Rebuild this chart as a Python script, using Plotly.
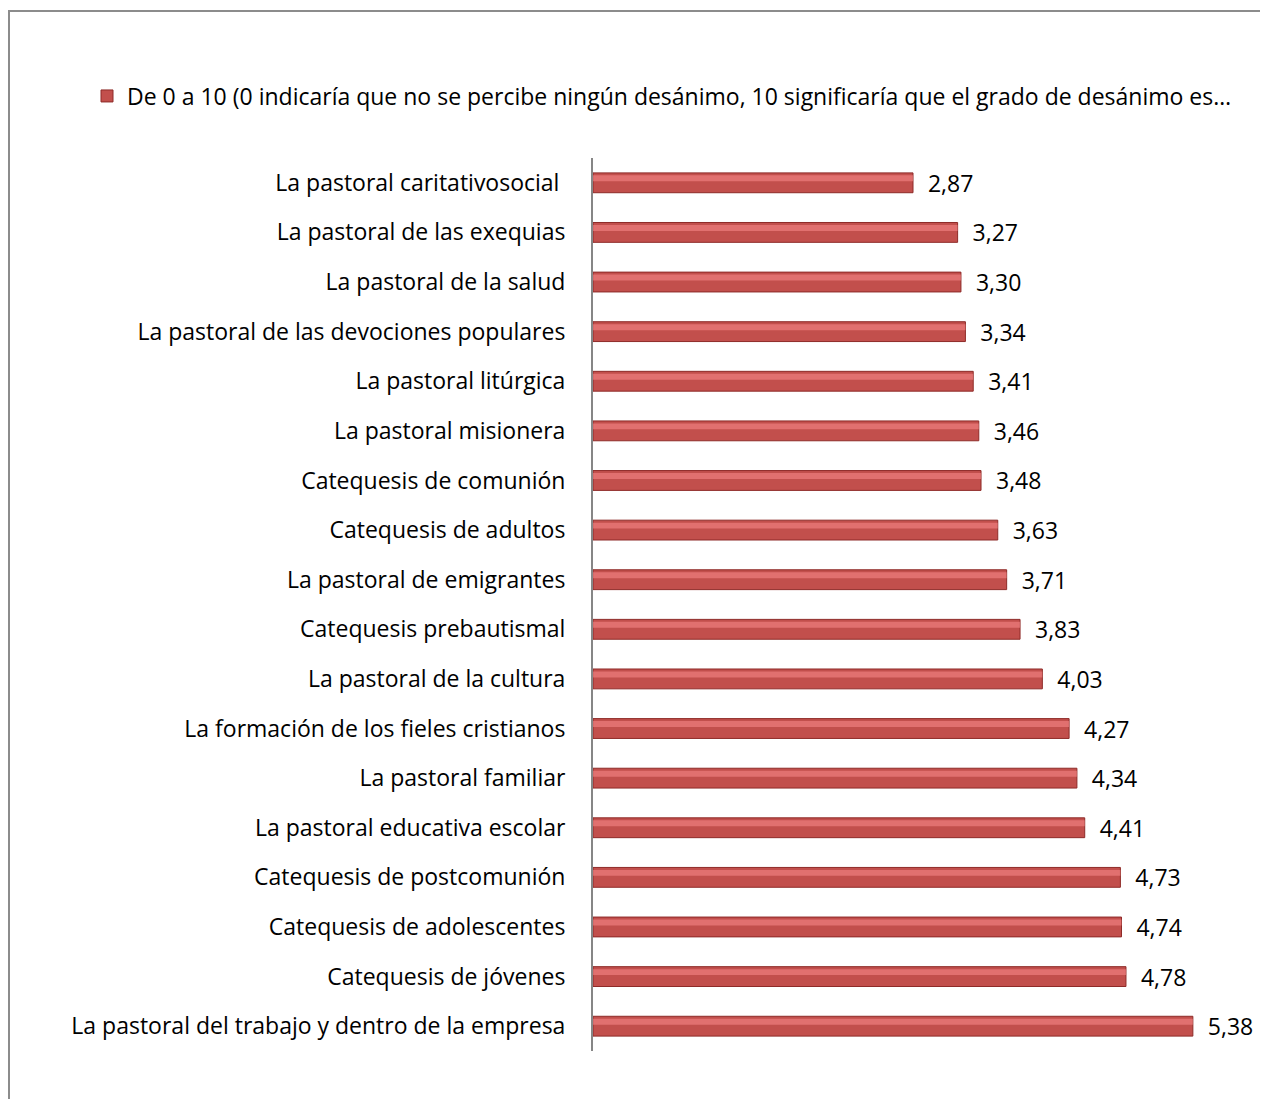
import plotly.graph_objects as go

categories = [
    "La pastoral caritativosocial ",
    "La pastoral de las exequias",
    "La pastoral de la salud",
    "La pastoral de las devociones populares",
    "La pastoral litúrgica",
    "La pastoral misionera",
    "Catequesis de comunión",
    "Catequesis de adultos",
    "La pastoral de emigrantes",
    "Catequesis prebautismal",
    "La pastoral de la cultura",
    "La formación de los fieles cristianos",
    "La pastoral familiar",
    "La pastoral educativa escolar",
    "Catequesis de postcomunión",
    "Catequesis de adolescentes",
    "Catequesis de jóvenes",
    "La pastoral del trabajo y dentro de la empresa",
]
values = [2.87, 3.27, 3.30, 3.34, 3.41, 3.46, 3.48, 3.63, 3.71, 3.83,
          4.03, 4.27, 4.34, 4.41, 4.73, 4.74, 4.78, 5.38]
series_name = ("De 0 a 10 (0 indicaría que no se percibe ningún desánimo, "
               "10 significaría que el grado de desánimo es…")

# page body has an 8px margin, so work in figure coordinates (screen - 8)
OFF = 8
W, H = 1260, 1091
L, R, T = 593 - OFF, 6, 158 - OFF
B = H - (1051 - OFF)
pw, ph = W - L - R, H - T - B

FONT = "'Open Sans', sans-serif"
FS = 23

fig = go.Figure()
fig.add_trace(go.Bar(
    y=categories, x=values, orientation="h", name=series_name,
    marker=dict(color="#C24F4C", line=dict(color="#8E2B28", width=1)),
    width=0.4,
    text=[f"{v:.2f}".replace(".", ",") for v in values],
    texttemplate="  %{text}",
    textposition="outside", cliponaxis=False, constraintext="none",
    textfont=dict(size=FS, color="#000000", family=FONT),
    showlegend=True,
))
# highlight stripe to suggest the bevelled look
fig.add_trace(go.Bar(
    y=categories, x=values, orientation="h",
    marker=dict(color="rgba(245,135,135,0.6)", line=dict(width=0)),
    width=0.12, offset=-0.15, showlegend=False, hoverinfo="skip",
))

def px_x(sx):
    return (sx - OFF - L) / pw

def px_y(sy):
    return (H - B - (sy - OFF)) / ph

fig.add_shape(type="rect", xref="paper", yref="paper",
              x0=px_x(9), x1=px_x(1290), y0=px_y(1120), y1=px_y(11),
              line=dict(color="#8C8C8C", width=2), layer="below")

fig.update_layout(
    width=W, height=H,
    margin=dict(l=L, r=R, t=T, b=B),
    paper_bgcolor="white", plot_bgcolor="white",
    barmode="overlay",
    font=dict(family=FONT, size=FS, color="#000000"),
    xaxis=dict(range=[0, 6], visible=False, showgrid=False, zeroline=False),
    yaxis=dict(autorange="reversed", showline=True, linecolor="#868686",
               linewidth=2, ticks="", showgrid=False,
               tickfont=dict(size=FS, family=FONT, color="#000000"),
               ticklabelstandoff=21),
    legend=dict(orientation="h", x=px_x(87), xanchor="left",
                y=px_y(96), yanchor="middle",
                font=dict(size=FS, family=FONT), itemwidth=30,
                bgcolor="rgba(0,0,0,0)"),
    separators=",.",
)

fig.write_html("out.html")
